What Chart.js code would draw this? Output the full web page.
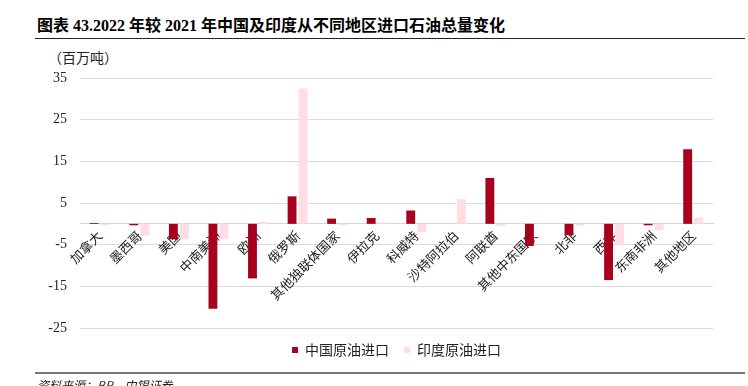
<!DOCTYPE html>
<html>
<head>
<meta charset="utf-8">
<script src="https://cdn.jsdelivr.net/npm/chart.js@4/dist/chart.umd.min.js"></script>
<style>
  html, body { margin: 0; padding: 0; background: #fff; }
  body { width: 748px; height: 386px; position: relative; overflow: hidden; }
  #title {
    position: absolute; left: 37px; top: 12px;
    font: bold 16px "Liberation Serif", "Noto Sans CJK SC", serif;
    color: #000; white-space: nowrap;
  }
  #topLine { position: absolute; left: 35px; top: 38px; width: 710px; height: 1px; background: #222; }
  #unit {
    position: absolute; left: 48px; top: 47px;
    font: 14px "Noto Sans CJK SC", serif; color: #222;
  }
  #bottomLine { position: absolute; left: 35px; top: 372px; width: 710px; height: 2px; background: #777; }
  #source {
    position: absolute; left: 37px; top: 376px;
    font: italic 12px "Noto Sans CJK SC", serif; color: #222;
  }
  #chartBox { position: absolute; left: 0; top: 0; width: 748px; height: 382px; }
</style>
</head>
<body>
<div id="title">图表 43.2022 年较 2021 年中国及印度从不同地区进口石油总量变化</div>
<div id="topLine"></div>
<div id="unit">（百万吨）</div>
<div id="chartBox"><canvas id="oilChart"></canvas></div>
<div id="bottomLine"></div>
<div id="source">资料来源：BP，中银证券</div>

<script>
/* ---------- data ---------- */
const regions = ['加拿大', '墨西哥', '美国', '中南美洲', '欧洲', '俄罗斯', '其他独联体国家', '伊拉克',
    '科威特', '沙特阿拉伯', '阿联酋', '其他中东国家', '北非', '西非', '东南非洲', '其他地区'];

const chinaImports = [0.2, -0.35, -3.7, -20.4, -13.1, 6.6, 1.25, 1.4, 3.2, 0, 11.0, -5.3, -2.7, -13.5, -0.35, 17.9];
const indiaImports = [-0.3, -2.8, -3.6, -3.6, 0.5, 32.5, -0.3, 0.35, -2.0, 5.9, -0.5, -0.1, -0.4, -4.9, -1.5, 1.5];

const yTicks = [-25, -15, -5, 5, 15, 25, 35];

const seriesNames = ['中国原油进口', '印度原油进口'];

/* ---------- chart ---------- */
const tickFont = { family: '"Liberation Serif", serif', size: 14 };
const cjkFont = { family: '"Noto Sans CJK SC", sans-serif', size: 13 };

new Chart(document.getElementById('oilChart'), {
    type: 'bar',
    data: {
        labels: regions,
        datasets: [
            {
                label: seriesNames[0],
                data: chinaImports,
                backgroundColor: '#a8001f',
                categoryPercentage: 0.56,
                barPercentage: 0.8
            },
            {
                label: seriesNames[1],
                data: indiaImports,
                backgroundColor: '#ffdde3',
                categoryPercentage: 0.56,
                barPercentage: 0.8
            }
        ]
    },
    options: {
        responsive: true,
        maintainAspectRatio: false,
        animation: false,
        layout: { padding: { top: 78, right: 35, left: 0, bottom: 15 } },
        scales: {
            x: {
                position: { y: 0 },
                grid: { display: false, drawTicks: false },
                border: { display: true, color: '#d6d6d6', width: 1 },
                ticks: {
                    minRotation: 45,
                    maxRotation: 45,
                    autoSkip: false,
                    padding: 4,
                    color: '#222',
                    font: cjkFont
                }
            },
            y: {
                min: yTicks[0],
                max: yTicks[yTicks.length - 1],
                afterFit: scale => { scale.width = 80; },
                afterBuildTicks: scale => { scale.ticks = yTicks.map(v => ({ value: v })); },
                grid: { color: '#dcdcdc', lineWidth: 1, drawTicks: false },
                border: { display: false },
                ticks: {
                    padding: 13,
                    color: '#222',
                    font: tickFont
                }
            }
        },
        plugins: {
            tooltip: { enabled: false },
            legend: {
                position: 'bottom',
                fullSize: false,
                labels: {
                    boxWidth: 6,
                    boxHeight: 6,
                    padding: 15,
                    color: '#222',
                    font: { family: '"Noto Sans CJK SC", sans-serif', size: 14 }
                }
            }
        }
    }
});
</script>
</body>
</html>
